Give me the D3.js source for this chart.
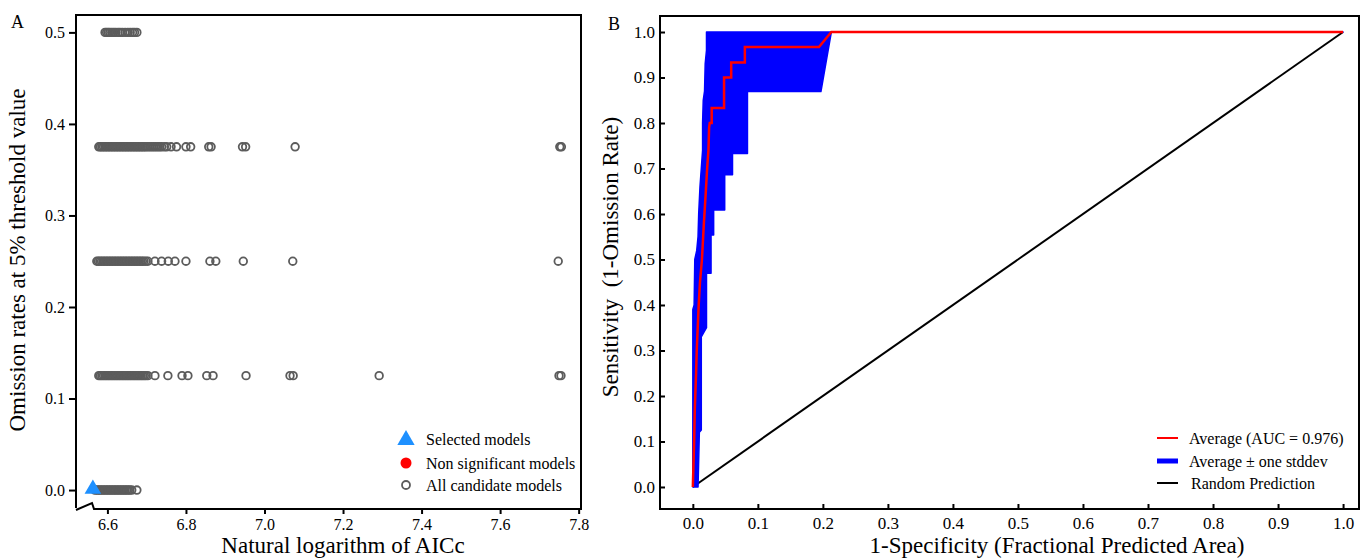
<!DOCTYPE html>
<meta charset="utf-8">
<style>
  body { margin: 0; background: #fff; }
  svg text { font-family: "Liberation Serif", "Times New Roman", serif; fill: #000; }
  .tickA text { font-size: 16px; }
  .tickB text { font-size: 17px; }
  .axis-title { font-size: 23px; white-space: pre; }
  .legend text { font-size: 16px; }
  .panel-label { font-size: 18px; }
</style>

<script src="https://d3js.org/d3.v7.min.js"></script>

<div id="chart"></div>

<script>
  // ---- Panel A data: ln(AICc) of candidate models, one array per omission level
  var omissionLevels = [0, 0.125, 0.25, 0.375, 0.5];

  var aiccOmit000 = [6.568, 6.573, 6.577, 6.581, 6.585, 6.589, 6.593, 6.597, 6.601, 6.605,
    6.609, 6.613, 6.617, 6.621, 6.625, 6.629, 6.633, 6.637, 6.641, 6.645, 6.649, 6.653,
    6.657, 6.662, 6.675];
  var aiccOmit125 = [6.578, 6.582, 6.586, 6.590, 6.594, 6.598, 6.602, 6.606, 6.610, 6.614,
    6.618, 6.622, 6.626, 6.630, 6.634, 6.638, 6.642, 6.646, 6.650, 6.654, 6.658, 6.662,
    6.666, 6.670, 6.674, 6.678, 6.682, 6.686, 6.690, 6.694, 6.698, 6.703, 6.721, 6.754,
    6.790, 6.805, 6.853, 6.869, 6.953, 7.065, 7.073, 7.292, 7.750, 7.755];
  var aiccOmit250 = [6.573, 6.577, 6.581, 6.585, 6.589, 6.593, 6.597, 6.601, 6.605, 6.609,
    6.613, 6.617, 6.621, 6.625, 6.629, 6.633, 6.637, 6.641, 6.645, 6.649, 6.653, 6.657,
    6.661, 6.665, 6.669, 6.673, 6.677, 6.681, 6.685, 6.689, 6.693, 6.698, 6.703, 6.721,
    6.738, 6.755, 6.772, 6.800, 6.861, 6.876, 6.946, 7.072, 7.748];
  var aiccOmit375 = [6.578, 6.582, 6.586, 6.590, 6.594, 6.598, 6.602, 6.606, 6.610, 6.614,
    6.618, 6.622, 6.626, 6.630, 6.634, 6.638, 6.642, 6.646, 6.650, 6.654, 6.658, 6.662,
    6.666, 6.670, 6.674, 6.678, 6.682, 6.686, 6.690, 6.694, 6.698, 6.703, 6.708, 6.713,
    6.718, 6.723, 6.728, 6.733, 6.738, 6.745, 6.751, 6.762, 6.776, 6.800, 6.812, 6.858,
    6.864, 6.944, 6.952, 7.078, 7.752, 7.756];
  var aiccOmit500 = [6.594, 6.598, 6.602, 6.606, 6.611, 6.616, 6.621, 6.627, 6.632, 6.638,
    6.645, 6.652, 6.658, 6.664, 6.669, 6.675];

  var selectedAicc = [6.563];
  var selectedOmission = [0];

  var xTicksA = [6.6, 6.8, 7.0, 7.2, 7.4, 7.6, 7.8];
  var yTicksA = [0, 0.1, 0.2, 0.3, 0.4, 0.5];
  var legendA = ["Selected models", "Non significant models", "All candidate models"];

  // ---- Panel B data: ROC curve, [1-specificity, sensitivity]
  var avgCurve = [[0, 0], [0.002, 0.10], [0.003, 0.17], [0.005, 0.25], [0.006, 0.30],
    [0.009, 0.40], [0.011, 0.45], [0.014, 0.50], [0.017, 0.58], [0.020, 0.65],
    [0.022, 0.70], [0.024, 0.74], [0.025, 0.79], [0.026, 0.80], [0.029, 0.80],
    [0.029, 0.833], [0.048, 0.833], [0.048, 0.90], [0.059, 0.90], [0.059, 0.933],
    [0.080, 0.933], [0.080, 0.967], [0.194, 0.967], [0.213, 1.0], [1.0, 1.0]];
  // band = mean +/- one sd, left (upper) edge then right (lower) edge
  var bandUpper = [[0.000, 0.00], [0.000, 0.39], [0.002, 0.40], [0.003, 0.50], [0.006, 0.52],
    [0.008, 0.55], [0.009, 0.60], [0.011, 0.66], [0.013, 0.70], [0.015, 0.74],
    [0.015, 0.80], [0.016, 0.85], [0.018, 0.87], [0.019, 0.93], [0.021, 0.96],
    [0.021, 1.00], [1.0, 1.0]];
  var bandLower = [[1.0, 1.0], [0.213, 1.00], [0.197, 0.869], [0.084, 0.869], [0.084, 0.733],
    [0.061, 0.733], [0.061, 0.686], [0.049, 0.686], [0.049, 0.609], [0.032, 0.609],
    [0.032, 0.554], [0.028, 0.554], [0.028, 0.47], [0.021, 0.47], [0.021, 0.35],
    [0.013, 0.33], [0.013, 0.125], [0.010, 0.12], [0.008, 0.00]];
  var randomLine = [[0, 0], [1, 1]];

  var ticksB = [0, 0.1, 0.2, 0.3, 0.4, 0.5, 0.6, 0.7, 0.8, 0.9, 1.0];
  var legendB = ["Average (AUC = 0.976)", "Average \u00b1 one stddev", "Random Prediction"];

  var width = 1365, height = 560;
  var fmt = d3.format(".1f");

  var svg = d3.select("#chart").append("svg")
    .attr("width", width)
    .attr("height", height);

  // ================= Panel A =================
  var boxA = { left: 76, right: 581, top: 15, bottom: 509 };
  var xA = d3.scaleLinear().domain([6.52, 7.806]).range([boxA.left, boxA.right]);
  var yA = d3.scaleLinear().domain([-0.0207, 0.519]).range([boxA.bottom, boxA.top]);

  var gA = svg.append("g");

  gA.append("g")
    .attr("class", "tickA")
    .attr("transform", "translate(" + boxA.left + ",0)")
    .call(d3.axisLeft(yA).tickValues(yTicksA).tickFormat(fmt).tickSize(7).tickSizeOuter(0).tickPadding(4))
    .call(function(g) { g.select(".domain").remove(); })
    .call(function(g) { g.selectAll("line").attr("stroke-width", 2); });

  gA.append("g")
    .attr("class", "tickA")
    .attr("transform", "translate(0," + boxA.bottom + ")")
    .call(d3.axisBottom(xA).tickValues(xTicksA).tickFormat(fmt).tickSize(5).tickSizeOuter(0).tickPadding(5))
    .call(function(g) { g.select(".domain").remove(); })
    .call(function(g) { g.selectAll("line").attr("stroke-width", 2); });

  // box with a small axis break at the lower left
  gA.append("path")
    .attr("fill", "none")
    .attr("stroke", "#000")
    .attr("stroke-width", 2)
    .attr("d", "M" + boxA.left + "," + (boxA.bottom - 1) +
      " L" + boxA.left + "," + boxA.top +
      " L" + boxA.right + "," + boxA.top +
      " L" + boxA.right + "," + boxA.bottom +
      " L" + (boxA.left + 18) + "," + boxA.bottom +
      " L" + (boxA.left + 16) + "," + (boxA.bottom - 6) +
      " L" + boxA.left + "," + (boxA.bottom + 1));

  var rowsA = [aiccOmit000, aiccOmit125, aiccOmit250, aiccOmit375, aiccOmit500];
  var pointsA = [];
  rowsA.forEach(function(row, i) {
    row.forEach(function(v) { pointsA.push({ x: v, y: omissionLevels[i] }); });
  });

  gA.append("g").selectAll("circle")
    .data(pointsA)
    .enter().append("circle")
      .attr("cx", function(d) { return xA(d.x); })
      .attr("cy", function(d) { return yA(d.y); })
      .attr("r", 3.8)
      .attr("fill", "none")
      .attr("stroke", "#5c5c5c")
      .attr("stroke-width", 1.8);

  gA.append("g").selectAll("path")
    .data(selectedAicc)
    .enter().append("path")
      .attr("d", d3.symbol().type(d3.symbolTriangle).size(120))
      .attr("transform", function(d, i) {
        return "translate(" + xA(d) + "," + (yA(selectedOmission[i]) - 1) + ")";
      })
      .attr("fill", "#1e90ff");

  // legend A
  var legA = gA.append("g").attr("class", "legend");
  var legAY = [439, 463, 485];
  legA.append("path")
    .attr("d", d3.symbol().type(d3.symbolTriangle).size(130))
    .attr("transform", "translate(406," + (legAY[0] + 1) + ")")
    .attr("fill", "#1e90ff");
  legA.append("circle").attr("cx", 406).attr("cy", legAY[1]).attr("r", 5.5).attr("fill", "#ff0000");
  legA.append("circle").attr("cx", 406).attr("cy", legAY[2]).attr("r", 4)
    .attr("fill", "none").attr("stroke", "#5c5c5c").attr("stroke-width", 1.8);
  legA.selectAll("text")
    .data(legendA)
    .enter().append("text")
      .attr("x", 426)
      .attr("y", function(d, i) { return legAY[i]; })
      .attr("dy", "0.35em")
      .text(function(d) { return d; });

  gA.append("text").attr("class", "panel-label").attr("x", 11).attr("y", 28).text("A");

  gA.append("text")
    .attr("class", "axis-title")
    .attr("text-anchor", "middle")
    .attr("transform", "translate(25,260) rotate(-90)")
    .text("Omission rates at 5% threshold value");

  gA.append("text")
    .attr("class", "axis-title")
    .attr("text-anchor", "middle")
    .attr("x", 343).attr("y", 553)
    .text("Natural logarithm of AICc");

  // ================= Panel B =================
  var boxB = { left: 660, right: 1359, top: 16, bottom: 509 };
  var xB = d3.scaleLinear().domain([-0.0505, 1.0245]).range([boxB.left, boxB.right]);
  var yB = d3.scaleLinear().domain([-0.0484, 1.0352]).range([boxB.bottom, boxB.top]);

  var gB = svg.append("g");

  gB.append("g")
    .attr("class", "tickB")
    .attr("transform", "translate(" + boxB.left + ",0)")
    .call(d3.axisLeft(yB).tickValues(ticksB).tickFormat(fmt).tickSize(-5).tickSizeOuter(0).tickPadding(5))
    .call(function(g) { g.select(".domain").remove(); })
    .call(function(g) { g.selectAll("line").attr("stroke-width", 2); });

  gB.append("g")
    .attr("class", "tickB")
    .attr("transform", "translate(0," + boxB.bottom + ")")
    .call(d3.axisBottom(xB).tickValues(ticksB).tickFormat(fmt).tickSize(-5).tickSizeOuter(0).tickPadding(8))
    .call(function(g) { g.select(".domain").remove(); })
    .call(function(g) { g.selectAll("line").attr("stroke-width", 2); });

  var lineB = d3.line()
    .x(function(d) { return xB(d[0]); })
    .y(function(d) { return yB(d[1]); });

  gB.append("path")
    .attr("d", lineB(randomLine))
    .attr("fill", "none")
    .attr("stroke", "#000")
    .attr("stroke-width", 2);

  gB.append("path")
    .attr("d", lineB(bandUpper.concat(bandLower)) + "Z")
    .attr("fill", "#0000ff")
    .attr("stroke", "#0000ff")
    .attr("stroke-width", 1.5)
    .attr("stroke-linejoin", "round");

  gB.append("path")
    .attr("d", lineB(avgCurve))
    .attr("fill", "none")
    .attr("stroke", "#ff0000")
    .attr("stroke-width", 2.5);

  gB.append("rect")
    .attr("x", boxB.left).attr("y", boxB.top)
    .attr("width", boxB.right - boxB.left)
    .attr("height", boxB.bottom - boxB.top)
    .attr("fill", "none")
    .attr("stroke", "#000")
    .attr("stroke-width", 2);

  // legend B
  var legB = gB.append("g").attr("class", "legend");
  var legBY = [438, 461, 483];
  var legBStyle = [["#ff0000", 2], ["#0000ff", 5], ["#000", 2]];
  legB.selectAll("line")
    .data(legBY)
    .enter().append("line")
      .attr("x1", 1157).attr("x2", 1178)
      .attr("y1", function(d) { return d; })
      .attr("y2", function(d) { return d; })
      .attr("stroke", function(d, i) { return legBStyle[i][0]; })
      .attr("stroke-width", function(d, i) { return legBStyle[i][1]; });
  legB.selectAll("text")
    .data(legendB)
    .enter().append("text")
      .attr("x", function(d, i) { return i === 2 ? 1191 : 1189; })
      .attr("y", function(d, i) { return legBY[i]; })
      .attr("dy", "0.35em")
      .text(function(d) { return d; });

  gB.append("text").attr("class", "panel-label").attr("x", 608).attr("y", 30).text("B");

  gB.append("text")
    .attr("class", "axis-title")
    .attr("text-anchor", "middle")
    .attr("transform", "translate(618,257) rotate(-90)")
    .text("Sensitivity  (1-Omission Rate)");

  gB.append("text")
    .attr("class", "axis-title")
    .attr("text-anchor", "middle")
    .attr("x", 1057).attr("y", 553)
    .text("1-Specificity (Fractional Predicted Area)");
</script>
